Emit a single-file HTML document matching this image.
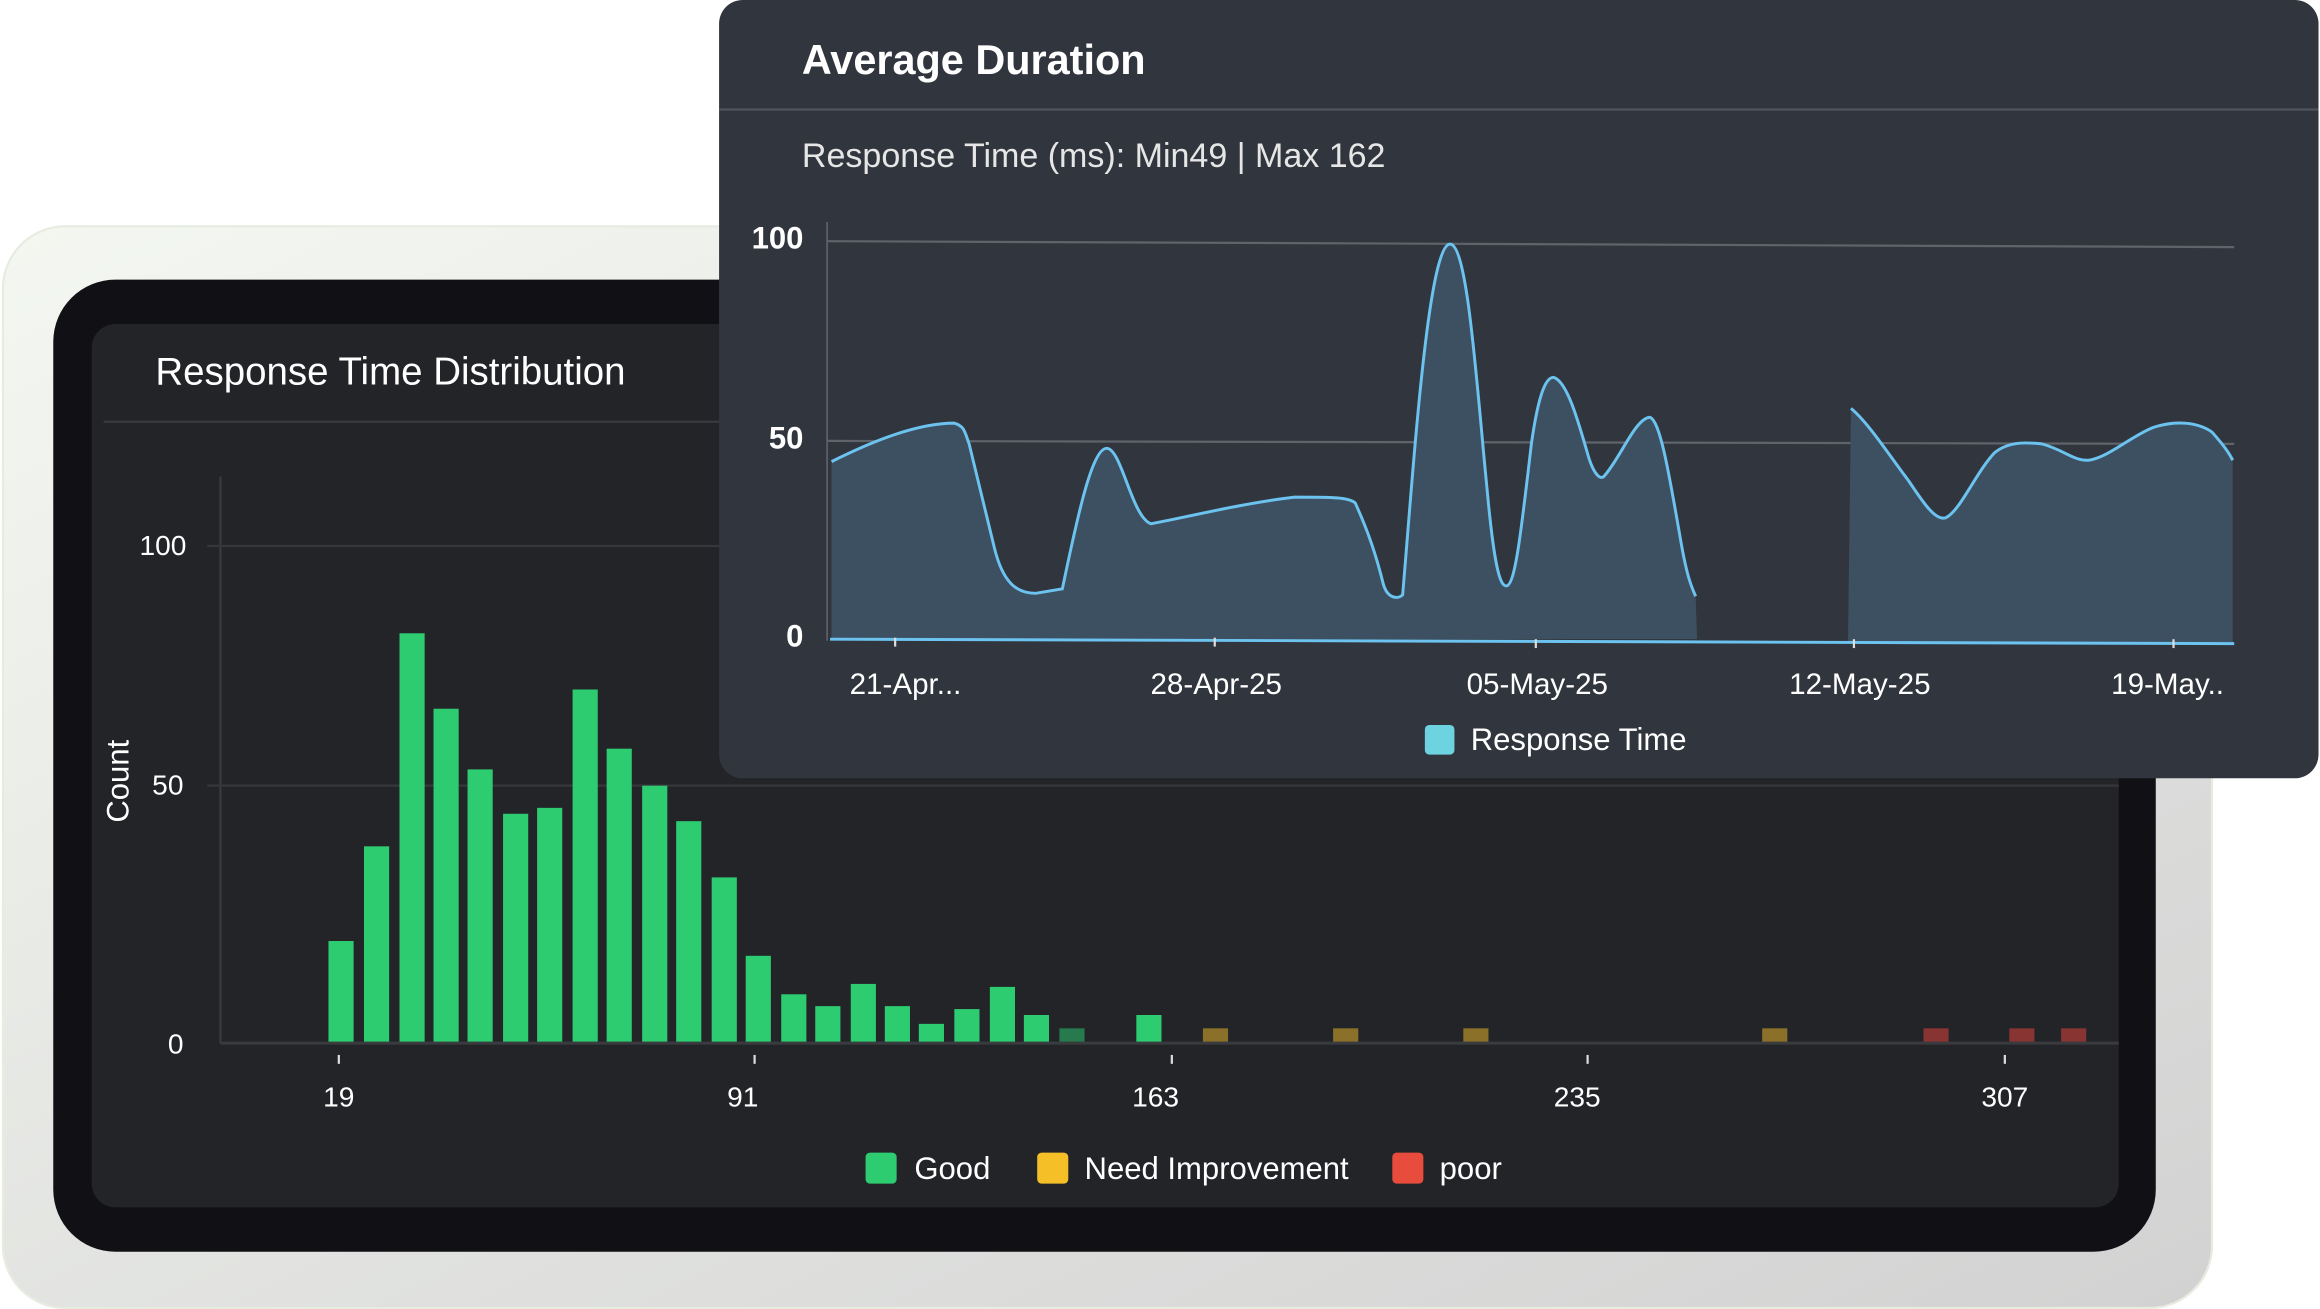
<!DOCTYPE html>
<html><head><meta charset="utf-8"><style>
html,body{margin:0;padding:0;background:#fff;}
svg{display:block;}
text{font-family:"Liberation Sans",sans-serif;}
</style></head><body>
<svg width="2320" height="1309" viewBox="0 0 1568 884.7" preserveAspectRatio="none" xmlns="http://www.w3.org/2000/svg">
<defs>
<linearGradient id="og" x1="0" y1="0" x2="1" y2="1">
<stop offset="0" stop-color="#f4f7f1"/><stop offset="1" stop-color="#d2d2d2"/>
</linearGradient>
</defs>
<rect x="0" y="0" width="1568" height="885" fill="#ffffff"/>
<rect x="2" y="153" width="1493" height="731" rx="42" fill="url(#og)" stroke="#e6ece0" stroke-width="1.5"/>
<rect x="36" y="189" width="1421" height="657" rx="42" fill="#111115"/>
<rect x="62" y="219" width="1370" height="597" rx="16" fill="#232428"/>
<text x="105" y="260" font-size="26" fill="#fff">Response Time Distribution</text>
<line x1="70" y1="285" x2="1425" y2="285" stroke="#3a3b3f" stroke-width="1.5"/>
<line x1="149" y1="322" x2="149" y2="705" stroke="#3a3b3f" stroke-width="1.5"/>
<line x1="140" y1="369" x2="1432" y2="369" stroke="#36373b" stroke-width="1.5"/>
<line x1="140" y1="531" x2="1432" y2="531" stroke="#36373b" stroke-width="1.5"/>
<line x1="149" y1="705" x2="1432" y2="705" stroke="#3a3b3f" stroke-width="2"/>
<g font-size="19" fill="#fff" text-anchor="end">
<text x="126" y="375">100</text><text x="124" y="537">50</text><text x="124" y="712">0</text>
</g>
<text transform="translate(87,528) rotate(-90)" font-size="21" fill="#fff" text-anchor="middle">Count</text>
<g fill="#2ecc71">
<rect x="222" y="636" width="17" height="68"/><rect x="246" y="572" width="17" height="132"/>
<rect x="270" y="428" width="17" height="276"/><rect x="293" y="479" width="17" height="225"/>
<rect x="316" y="520" width="17" height="184"/><rect x="340" y="550" width="17" height="154"/>
<rect x="363" y="546" width="17" height="158"/><rect x="387" y="466" width="17" height="238"/>
<rect x="410" y="506" width="17" height="198"/><rect x="434" y="531" width="17" height="173"/>
<rect x="457" y="555" width="17" height="149"/><rect x="481" y="593" width="17" height="111"/>
<rect x="504" y="646" width="17" height="58"/><rect x="528" y="672" width="17" height="32"/>
<rect x="551" y="680" width="17" height="24"/><rect x="575" y="665" width="17" height="39"/>
<rect x="598" y="680" width="17" height="24"/><rect x="621" y="692" width="17" height="12"/>
<rect x="645" y="682" width="17" height="22"/><rect x="669" y="667" width="17" height="37"/>
<rect x="692" y="686" width="17" height="18"/><rect x="768" y="686" width="17" height="18"/>
</g>
<rect x="716" y="695" width="17" height="9" fill="#267a4e"/>
<g fill="#8a7028">
<rect x="813" y="695" width="17" height="9"/><rect x="901" y="695" width="17" height="9"/>
<rect x="989" y="695" width="17" height="9"/><rect x="1191" y="695" width="17" height="9"/>
</g>
<g fill="#873433">
<rect x="1300" y="695" width="17" height="9"/><rect x="1358" y="695" width="17" height="9"/><rect x="1393" y="695" width="17" height="9"/>
</g>
<g stroke="#ddd" stroke-width="1.5">
<line x1="229" y1="713" x2="229" y2="719"/><line x1="510" y1="713" x2="510" y2="719"/>
<line x1="792" y1="713" x2="792" y2="719"/><line x1="1073" y1="713" x2="1073" y2="719"/><line x1="1355" y1="713" x2="1355" y2="719"/>
</g>
<g font-size="19" fill="#fff" text-anchor="middle">
<text x="229" y="748">19</text><text x="502" y="748">91</text><text x="781" y="748">163</text><text x="1066" y="748">235</text><text x="1355" y="748">307</text>
</g>
<rect x="585" y="779" width="21" height="21" rx="3" fill="#2ecc71"/>
<text x="618" y="797" font-size="21" fill="#fff">Good</text>
<rect x="701" y="779" width="21" height="21" rx="3" fill="#f5c027"/>
<text x="733" y="797" font-size="21" fill="#fff">Need Improvement</text>
<rect x="941" y="779" width="21" height="21" rx="3" fill="#e74c3c"/>
<text x="973" y="797" font-size="21" fill="#fff">poor</text>

<rect x="486" y="0" width="1081" height="526" rx="16" fill="#31353d"/>
<text x="542" y="50" font-size="28" font-weight="bold" fill="#fff">Average Duration</text>
<line x1="486" y1="74" x2="1567" y2="74" stroke="#50555d" stroke-width="1.5"/>
<text x="542" y="113" font-size="23" fill="#e6e6e6">Response Time (ms): Min49 | Max 162</text>
<line x1="559" y1="150" x2="559" y2="433" stroke="#5a5f66" stroke-width="1.2"/>
<line x1="559" y1="163" x2="1510" y2="167" stroke="#5f646b" stroke-width="1.5"/>
<line x1="559" y1="298" x2="1510" y2="300" stroke="#5f646b" stroke-width="1.5"/>
<g font-size="21" font-weight="bold" fill="#fff" text-anchor="end">
<text x="543" y="168">100</text><text x="543" y="303">50</text><text x="543" y="437">0</text>
</g>
<path d="M562,312 C590,298 620,286 645,286 C652,288 652,292 655,300 L672,370 C678,395 688,401 700,401 L718,398 C728,350 738,303 748,303 C758,303 765,350 778,354 C800,350 840,340 875,336 C900,336 912,336 916,340 C925,360 930,375 935,395 C938,405 945,405 948,402 C955,320 965,165 980,165 C992,165 998,260 1005,330 C1010,385 1014,396 1018,396 C1024,396 1028,360 1035,300 C1040,265 1045,255 1050,255 C1060,258 1068,290 1074,310 C1078,322 1082,324 1084,322 C1095,310 1105,283 1115,282 C1122,284 1128,320 1135,360 C1140,390 1143,396 1146,403 L1147,432 L562,432 Z" fill="#3d5061" stroke="none"/>
<path d="M562,312 C590,298 620,286 645,286 C652,288 652,292 655,300 L672,370 C678,395 688,401 700,401 L718,398 C728,350 738,303 748,303 C758,303 765,350 778,354 C800,350 840,340 875,336 C900,336 912,336 916,340 C925,360 930,375 935,395 C938,405 945,405 948,402 C955,320 965,165 980,165 C992,165 998,260 1005,330 C1010,385 1014,396 1018,396 C1024,396 1028,360 1035,300 C1040,265 1045,255 1050,255 C1060,258 1068,290 1074,310 C1078,322 1082,324 1084,322 C1095,310 1105,283 1115,282 C1122,284 1128,320 1135,360 C1140,390 1143,396 1146,403" fill="none" stroke="#6cc3f0" stroke-width="2"/>
<path d="M1251,276 C1262,285 1275,305 1290,325 C1300,340 1308,352 1315,350 C1325,345 1335,320 1348,306 C1358,298 1370,299 1380,300 C1395,304 1402,312 1412,311 C1425,309 1440,295 1455,289 C1470,284 1485,285 1495,292 C1502,300 1506,305 1509,311 L1509,434 L1249,434 Z" fill="#3d5061"/>
<path d="M1251,276 C1262,285 1275,305 1290,325 C1300,340 1308,352 1315,350 C1325,345 1335,320 1348,306 C1358,298 1370,299 1380,300 C1395,304 1402,312 1412,311 C1425,309 1440,295 1455,289 C1470,284 1485,285 1495,292 C1502,300 1506,305 1509,311" fill="none" stroke="#6cc3f0" stroke-width="2"/>
<line x1="561" y1="432" x2="1510" y2="435" stroke="#6cc3f0" stroke-width="2"/>
<g stroke="#ddd" stroke-width="1.5">
<line x1="605" y1="431" x2="605" y2="437"/><line x1="821" y1="431" x2="821" y2="437"/><line x1="1038" y1="432" x2="1038" y2="438"/><line x1="1253" y1="432" x2="1253" y2="438"/><line x1="1469" y1="432" x2="1469" y2="438"/>
</g>
<g font-size="20" fill="#fff" text-anchor="middle">
<text x="612" y="469">21-Apr...</text><text x="822" y="469">28-Apr-25</text><text x="1039" y="469">05-May-25</text><text x="1257" y="469">12-May-25</text><text x="1465" y="469">19-May..</text>
</g>
<rect x="963" y="490" width="20" height="20" rx="3" fill="#6dd3e0"/>
<text x="994" y="507" font-size="21" fill="#fff">Response Time</text>
</svg>
</body></html>
